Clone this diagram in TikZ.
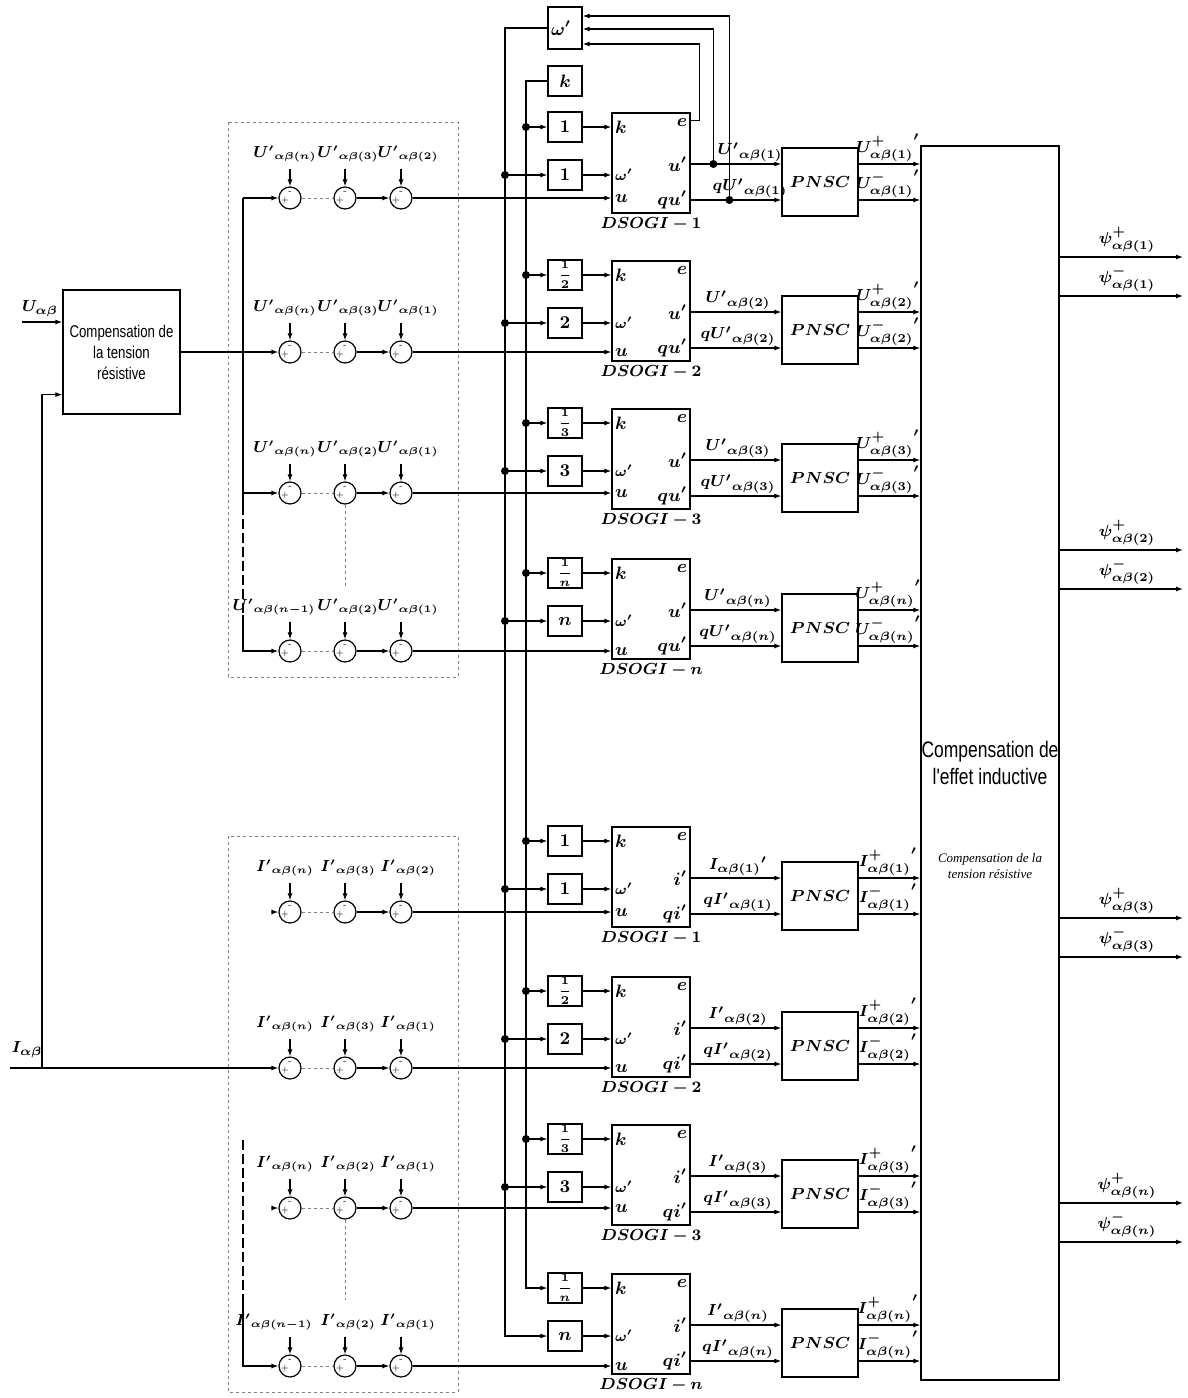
\documentclass[tikz,border=0pt]{standalone}
\usepackage{amsmath}
\usepackage{bm}
\usepackage{fontspec}
\newfontfamily\narrowfont{Liberation Sans}[FakeStretch=0.78]
\newfontfamily\notefont{Liberation Serif}
\usetikzlibrary{arrows.meta,calc}

\begin{document}
\begin{tikzpicture}[
    x=0.5pt, y=-0.5pt, line width=0.6pt, font=\footnotesize,
    blk/.style={draw, minimum width=39pt, minimum height=50pt, inner sep=0pt},
    gain/.style={draw, minimum width=17pt, minimum height=15pt, inner sep=0pt, font=\small},
    pnsc/.style={draw, minimum width=38pt, minimum height=34pt},
    sumc/.style={draw, circle, minimum size=11pt, inner sep=0pt},
    sumlbl/.style={font=\fontsize{7.6}{9}\selectfont},
    port/.style={inner sep=1.5pt, font=\small},
    sgn/.style={inner sep=0pt, font=\fontsize{4}{4}\selectfont},
    arrow/.style={-{Latex[length=3.5pt, width=2.5pt]}},
    guide/.style={gray, line width=0.4pt, dash pattern=on 1.5pt off 1.5pt},
    bus/.style={line width=1pt, dash pattern=on 5pt off 2pt}
]
    \useasboundingbox (0,0) rectangle (1188,1398);

    \draw[guide] (228,122) rectangle (458,677);
    \draw[guide] (228,836) rectangle (458,1392);

    \node[draw, minimum width=58.5pt, minimum height=62pt, inner sep=0pt, align=center, font=\narrowfont\fontsize{8.5}{10.5}\selectfont] (cres) at (121.5,352) {Compensation de\\la tension\\résistive};
    \node[draw, minimum width=69pt, minimum height=617pt, inner sep=0pt, align=center, font=\narrowfont\fontsize{11.2}{13.5}\selectfont] (ind) at (990,763) {Compensation de\\l'effet inductive};
    \node[align=center, font=\notefont\itshape\fontsize{6.5}{8}\selectfont] (note) at (990,866) {Compensation de la\\tension résistive};

    \node[gain, minimum height=21pt] (wbox) at (565,28) {};
    \node[port, anchor=west] (wboxl) at (wbox.west) {$\bm{\omega'}$};
    \node[gain] (kbox) at (565,81) {$\bm{k}$};
    \coordinate (wbus) at (505,28);
    \coordinate (kbus) at (526,81);

    \foreach \g/\tp/\ry/\ka/\wa/\nn/\vsm/\vcap/\ia/\ib/\ic/\xa/\lx in {
        u1/113/198/{$\bm{1}$}/1/1/u/U/n/3/2/285/750,
        u2/261/352/{\fontsize{6}{6}\selectfont$\bm{\dfrac{1}{2}}$}/2/2/u/U/n/3/1/285/738,
        u3/409/493/{\fontsize{6}{6}\selectfont$\bm{\dfrac{1}{3}}$}/3/3/u/U/n/2/1/285/738,
        un/559/651/{\fontsize{6}{6}\selectfont$\bm{\dfrac{1}{n}}$}/n/n/u/U/{n-1}/2/1/274/738,
        i1/827/912/{$\bm{1}$}/1/1/i/I/n/3/2/285/738,
        i2/977/1068/{\fontsize{6}{6}\selectfont$\bm{\dfrac{1}{2}}$}/2/2/i/I/n/3/1/285/738,
        i3/1125/1208/{\fontsize{6}{6}\selectfont$\bm{\dfrac{1}{3}}$}/3/3/i/I/n/2/1/285/738,
        in/1274/1366/{\fontsize{6}{6}\selectfont$\bm{\dfrac{1}{n}}$}/n/n/i/I/{n-1}/2/1/274/738}{
        \node[blk] (ds\g) at (651,\tp+50) {};
        \node[gain] (gk\g) at (565,\tp+14) {\ka};
        \node[gain] (gw\g) at (565,\tp+62) {$\bm{\wa}$};
        \node[pnsc] (pn\g) at (820,\tp+69) {$\bm{PNSC}$};
        \coordinate (pa\g) at ($(pn\g.west)+(0,-18)$);
        \coordinate (pb\g) at ($(pn\g.west)+(0,18)$);
        \coordinate (qa\g) at ($(pn\g.east)+(0,-18)$);
        \coordinate (qb\g) at ($(pn\g.east)+(0,18)$);

        \node[sumc] (ca\g) at (290,\ry) {};
        \node[sumc] (cb\g) at (345,\ry) {};
        \node[sumc] (cc\g) at (401,\ry) {};
        \foreach \cn in {ca,cb,cc}{
            \node[sgn] (m\cn\g) at ($(\cn\g)+(0,-6)$) {-};
            \node[sgn] (p\cn\g) at ($(\cn\g)+(-5,2)$) {+};
        }
        \node[sumlbl] (la\g) at (\xa,\ry-44) {$\bm{{\vcap'}_{\alpha\beta(\ia)}}$};
        \node[sumlbl] (lb\g) at (348,\ry-44) {$\bm{{\vcap'}_{\alpha\beta(\ib)}}$};
        \node[sumlbl] (lc\g) at (408,\ry-44) {$\bm{{\vcap'}_{\alpha\beta(\ic)}}$};
        \draw[arrow] (la\g.south -| ca\g) -- (ca\g);
        \draw[arrow] (lb\g.south -| cb\g) -- (cb\g);
        \draw[arrow] (lc\g.south -| cc\g) -- (cc\g);

        \draw[guide] (ca\g) -- (cb\g);
        \draw[arrow] (cb\g) -- (cc\g);
        \draw[arrow] (cc\g) -- (ds\g.west |- cc\g);
        \draw[arrow] (gk\g) -- (ds\g.west |- gk\g);
        \draw[arrow] (gw\g) -- (ds\g.west |- gw\g);
        \draw[arrow] (ds\g.east |- pa\g) -- (pa\g);
        \draw[arrow] (ds\g.east |- pb\g) -- (pb\g);
        \draw[arrow] (qa\g) -- (ind.west |- qa\g);
        \draw[arrow] (qb\g) -- (ind.west |- qb\g);

        \node[port, anchor=west] (kp\g) at (ds\g.west |- gk\g) {$\bm{k}$};
        \node[port, anchor=west, font=\scriptsize] (wp\g) at (ds\g.west |- gw\g) {$\bm{\omega'}$};
        \node[port, anchor=west] (up\g) at (ds\g.west |- cc\g) {$\bm{u}$};
        \node[port, anchor=east] (ep\g) at ($(ds\g.north east)+(0,10)$) {$\bm{e}$};
        \node[port, anchor=east] (op\g) at (ds\g.east |- pa\g) {$\bm{\vsm'}$};
        \node[port, anchor=east] (qp\g) at (ds\g.east |- pb\g) {$\bm{q\vsm'}$};
        \node[anchor=north, inner sep=1.5pt] (dn\g) at (ds\g.south) {$\bm{DSOGI-\nn}$};

        \node[anchor=south, inner sep=1pt] (ta\g) at (\lx,0 |- pa\g) {\ifnum\tp=827 $\bm{{I_{\alpha\beta(1)}}'}$\else $\bm{{\vcap'}_{\alpha\beta(\nn)}}$\fi};
        \node[anchor=south, inner sep=1pt] (tb\g) at (\lx,0 |- pb\g) {$\bm{q{\vcap'}_{\alpha\beta(\nn)}}$};
        \node[anchor=south, inner sep=1pt] (sa\g) at (888,0 |- qa\g) {$\bm{{\vcap^{+}_{\alpha\beta(\nn)}}'}$};
        \node[anchor=south, inner sep=1pt] (sb\g) at (888,0 |- qb\g) {$\bm{{\vcap^{-}_{\alpha\beta(\nn)}}'}$};
    }

    \draw[arrow] (wbox) -- (wbus) |- (gwin.west);
    \draw[arrow] (kbox) -- (kbus) |- (gkin.west);
    \foreach \g in {u1,u2,u3,un,i1,i2,i3}{
        \draw[arrow] (kbus |- gk\g) -- (gk\g);
        \draw[arrow] (wbus |- gw\g) -- (gw\g);
        \fill (kbus |- gk\g) circle (2pt);
        \fill (wbus |- gw\g) circle (2pt);
    }

    \coordinate (eout) at ($(dsu1.north east)+(0,8)$);
    \coordinate (fbu) at ($(pau1)+(-68,0)$);
    \coordinate (fbq) at ($(pbu1)+(-52,0)$);
    \draw[arrow] (eout) -- ++(9,0) |- ($(wbox.east)+(0,16)$);
    \draw[arrow] (fbu) |- ($(wbox.east)+(0,1)$);
    \draw[arrow] (fbq) |- ($(wbox.east)+(0,-12)$);
    \fill (fbu) circle (2pt);
    \fill (fbq) circle (2pt);

    \coordinate (uin) at (22,322);
    \coordinate (iin) at (10,1068);
    \coordinate (ibr) at (42,1068);
    \node (ulab) at (40,309) {$\bm{U_{\alpha\beta}}$};
    \node (ilab) at (27,1050) {$\bm{I_{\alpha\beta}}$};
    \draw[arrow] (uin) -- (cres.west |- uin);
    \draw[arrow] (iin) -- (cai2);
    \draw[arrow] (ibr) |- ($(cres.south west)+(0,-20)$);
    \draw[arrow] (cres) -- (cau2);

    \coordinate (ubus) at (243,198);
    \coordinate (ubusa) at (243,505);
    \coordinate (ubusb) at (243,615);
    \draw[arrow] (ubus) -- (cau1);
    \draw[arrow] (ubus |- cau3) -- (cau3);
    \draw (ubus) -- (ubusa);
    \draw[bus] (ubusa) -- (ubusb);
    \draw[arrow] (ubusb) |- (caun);
    \coordinate (ibusa) at (243,1140);
    \coordinate (ibusb) at (243,1300);
    \draw[bus] (ibusa) -- (ibusb);
    \draw[arrow] (ibusb) |- (cain);
    \draw[arrow] ($(cai1)+(-17,0)$) -- (cai1);
    \draw[arrow] ($(cai3)+(-17,0)$) -- (cai3);
    \draw[guide] (cbu3) -- ++(0,95);
    \draw[guide] (cbi3) -- ++(0,92);

    \foreach \ps/\yy in {1/257, 2/550, 3/918, n/1203}{
        \coordinate (psa\ps) at (1183,\yy);
        \coordinate (psb\ps) at (1183,\yy+39);
        \draw[arrow] (ind.east |- psa\ps) -- (psa\ps);
        \draw[arrow] (ind.east |- psb\ps) -- (psb\ps);
        \node[anchor=south, inner sep=2pt] (psl\ps) at (1127,\yy) {$\bm{\psi^{+}_{\alpha\beta(\ps)}}$};
        \node[anchor=south, inner sep=2pt] (psm\ps) at (1127,\yy+39) {$\bm{\psi^{-}_{\alpha\beta(\ps)}}$};
    }
\end{tikzpicture}
\end{document}
